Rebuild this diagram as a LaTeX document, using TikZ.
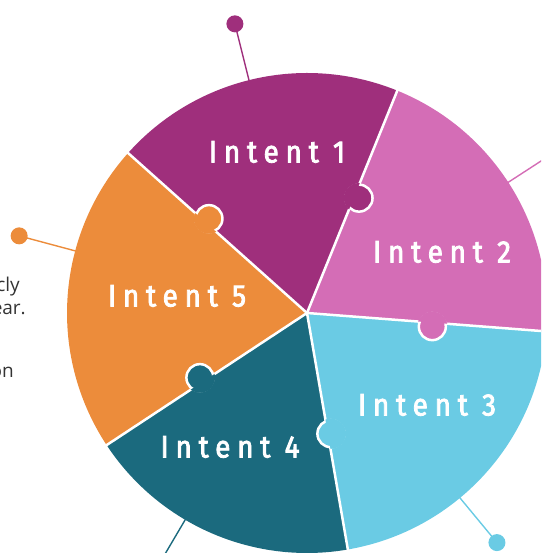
\documentclass[tikz,border=0pt]{standalone}
\usepackage{fontspec}
\usetikzlibrary{calc}
\newfontfamily\intentfont[LetterSpace=22, FakeStretch=0.9, FakeBold=2.6]{Fira Sans}
\newfontfamily\bodyfont{Open Sans}
\definecolor{cpurple}{HTML}{9F2F7C}
\definecolor{cpink}{HTML}{D46DB6}
\definecolor{ccyan}{HTML}{6ACBE4}
\definecolor{cteal}{HTML}{1B6A7E}
\definecolor{corange}{HTML}{EC8C3B}
\definecolor{ctext}{HTML}{333333}
\tikzset{
  intent/.style={text=white, font=\intentfont\fontsize{31}{33}\selectfont, inner sep=0pt},
  sidetext/.style={text=ctext, font=\bodyfont\fontsize{19}{22}\selectfont, inner sep=0pt, anchor=base east},
  sep/.style={white, line width=2.5pt},
  pinline/.style={line width=1.4pt},
}
\newcommand{\sectorpath}[2]{(C) -- ($(C)+(#1:240pt)$) arc[start angle=#1, end angle=#2, radius=240pt] -- cycle}
\begin{document}
\begin{tikzpicture}[x=1pt,y=1pt]
\useasboundingbox (0,0) rectangle (541,553);
\clip (0,0) rectangle (541,553);
\coordinate (C) at (307,240);
% pins
\foreach \ang/\col in {104/cpurple, 33/cpink, 309.6/ccyan, 239.5/cteal, 165/corange}{
  \coordinate (pa) at ($(C)+(\ang:230pt)$);
  \coordinate (pb) at ($(C)+(\ang:298pt)$);
  \draw[pinline, \col] (pa) -- (pb);
  \fill[\col] (pb) circle (8.5pt);
}
% sectors
\fill[cpurple] \sectorpath{67.9}{138.2};
\fill[corange] \sectorpath{138.2}{213.4};
\fill[cteal] \sectorpath{213.4}{279.8};
\fill[ccyan] \sectorpath{279.8}{355.6};
\fill[cpink] \sectorpath{-4.4}{67.9};
% separators
\foreach \ang in {67.9,138.2,213.4,279.8,355.6}{
  \coordinate (se) at ($(C)+(\ang:242pt)$);
  \draw[sep] (C) -- (se);
}
% knobs
\coordinate (K1) at ($(C)+(67.9:126pt)+(-22.1:5pt)$);
\coordinate (K2) at ($(C)+(138.2:136pt)+(48.2:5pt)$);
\coordinate (K3) at ($(C)+(355.6:126pt)+(265.6:4pt)$);
\coordinate (K4) at ($(C)+(213.4:125pt)+(123.4:5pt)$);
\coordinate (K5) at ($(C)+(279.8:123pt)+(9.8:3pt)$);
\foreach \k/\col in {K1/cpurple, K2/corange, K3/cpink, K4/cteal, K5/ccyan}{
  \filldraw[fill=\col, draw=white, line width=2.5pt] (\k) circle (13.5pt);
}
\begin{scope}\clip \sectorpath{67.9}{138.2}; \fill[cpurple] (K1) circle (15.1pt);\end{scope}
\begin{scope}\clip \sectorpath{138.2}{213.4}; \fill[corange] (K2) circle (15.1pt);\end{scope}
\begin{scope}\clip \sectorpath{-4.4}{67.9}; \fill[cpink] (K3) circle (15.1pt);\end{scope}
\begin{scope}\clip \sectorpath{213.4}{279.8}; \fill[cteal] (K4) circle (15.1pt);\end{scope}
\begin{scope}\clip \sectorpath{279.8}{355.6}; \fill[ccyan] (K5) circle (15.1pt);\end{scope}
% labels
\node[intent] (i1) at (277,401) {Intent 1};
\node[intent] (i2) at (442,301) {Intent 2};
\node[intent] (i3) at (427,148) {Intent 3};
\node[intent] (i4) at (230,106) {Intent 4};
\node[intent] (i5) at (177,257) {Intent 5};
% side text
\node[sidetext] (t1) at (20,261) {cly};
\node[sidetext] (t2) at (26,238) {ear.};
\node[sidetext] (t3) at (14,175) {on};
\end{tikzpicture}
\end{document}
